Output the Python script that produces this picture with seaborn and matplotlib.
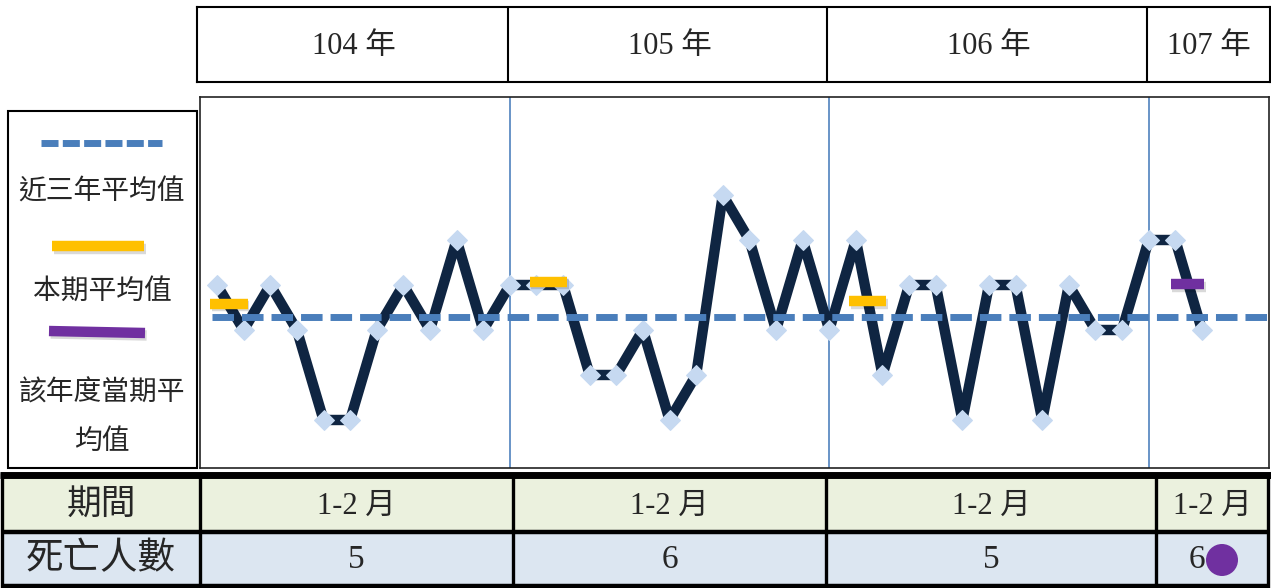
import numpy as np
import pandas as pd
import matplotlib
matplotlib.use("Agg")
import matplotlib.pyplot as plt
import matplotlib.patheffects as pe
from matplotlib.patches import Rectangle, Circle
import seaborn as sns

# ---------------- data ----------------
years = ["104", "105", "106", "107"]
year_unit = "年"
year_start_idx = [-1, 11, 23, 35]          # month index of January of each year
monthly_deaths = [3, 2, 3, 2, 0, 0, 2, 3, 2, 4, 2,
                  3, 3, 3, 1, 1, 2, 0, 1, 5, 4, 2, 4,
                  2, 4, 1, 3, 3, 0, 3, 3, 0, 3, 2, 2,
                  4, 4, 2]
three_year_avg = 2.29
period_avg = [2.58, 3.07, 2.64]            # 104-106, 1-2月 average
current_avg = 3.02                          # 107, 1-2月 average
period_label = "1-2"
period_unit = "月"
period_deaths = ["5", "6", "5", "6"]
row_labels = ["期間", "死亡人數"]
legend_labels = ["近三年平均值", "本期平均值", "該年度當期平\n均值"]

# ---------------- style ----------------
sns.set_style("white")
plt.rcParams["font.family"] = ["Liberation Serif", "Noto Sans CJK TC", "DejaVu Sans"]

NAVY = "#0f2542"
MARK = "#c6d9f1"
BLUE = "#4a7ebb"
YELLOW = "#ffc000"
PURPLE = "#7030a0"
GREEN_BG = "#ebf1de"
BLUE_BG = "#dce6f1"

W, H = 1271, 588
fig = plt.figure(figsize=(W / 100, H / 100), dpi=100)

# overlay in pixel coordinates
ov = fig.add_axes([0, 0, 1, 1], zorder=0)
ov.set_xlim(0, W)
ov.set_ylim(H, 0)
ov.axis("off")

shadow = [pe.SimpleLineShadow(offset=(1.2, -1.8), shadow_color="k", alpha=0.15), pe.Normal()]

# ---------------- main line chart ----------------
x0_px, x1_px, y0_px, y1_px = 200, 1269, 97, 468
ax = fig.add_axes([x0_px / W, (H - y1_px) / H, (x1_px - x0_px) / W, (y1_px - y0_px) / H], zorder=2)
df = pd.DataFrame({"idx": np.arange(len(monthly_deaths)), "deaths": monthly_deaths})
sns.lineplot(data=df, x="idx", y="deaths", ax=ax, color=NAVY, lw=7.5, marker="D",
             markersize=10, markerfacecolor=MARK, markeredgecolor=MARK, zorder=4,
             sort=False)
ax.set_xlim(-0.64, 39.52)
ax.set_ylim(-1.067, 7.178)
ax.set_xticks([])
ax.set_yticks([])
ax.set_xlabel("")
ax.set_ylabel("")
for s in ax.spines.values():
    s.set_color("#222222")
    s.set_linewidth(1.2)

for b in year_start_idx[1:]:
    ax.axvline(b, color="#4f81bd", lw=1.2, zorder=1)

ax.plot([-0.19, 39.6], [three_year_avg, three_year_avg], color=BLUE, lw=5,
        linestyle=(0, (3.1, 1.15)), zorder=5, dash_capstyle="butt", clip_on=False)

for start, v in zip(year_start_idx[:3], period_avg):
    c = start + 1.45
    ax.plot([c - 0.7, c + 0.7], [v, v], color=YELLOW, lw=7.5, solid_capstyle="butt",
            zorder=6, path_effects=shadow)
c = year_start_idx[3] + 1.45
ax.plot([c - 0.63, c + 0.63], [current_avg, current_avg], color=PURPLE, lw=7.5,
        solid_capstyle="butt", zorder=6, path_effects=shadow)

# ---------------- year header ----------------
hax = fig.add_axes([197 / W, (H - 82) / H, (1270 - 197) / W, 75 / H], zorder=2)
hx0 = -0.64 - 3 / 26.62
hx1 = 39.52 + 1 / 26.62
hax.set_xlim(hx0, hx1)
hax.set_ylim(0, 1)
hax.set_xticks([])
hax.set_yticks([])
for s in hax.spines.values():
    s.set_color("black")
    s.set_linewidth(1.5)
edges = [hx0] + year_start_idx[1:] + [hx1]
for b in year_start_idx[1:]:
    hax.axvline(b - 0.08, color="black", lw=1.5)
for i, y in enumerate(years):
    cx = (edges[i] + edges[i + 1]) / 2
    hax.text(cx, 0.47, f"{y} {year_unit}", ha="center", va="center", fontsize=22)

# ---------------- legend box ----------------
ov.add_patch(Rectangle((8, 111), 189, 357, fill=False, ec="black", lw=1.5))
ov.plot([41, 162], [143, 143], color=BLUE, lw=5, linestyle=(0, (2.45, 0.62)), dash_capstyle="butt")
ov.plot([52, 144], [246, 246], color=YELLOW, lw=7.5, solid_capstyle="butt", path_effects=shadow)
ov.plot([49, 145], [331, 333], color=PURPLE, lw=7.5, solid_capstyle="butt", path_effects=shadow)
ov.text(102, 192, legend_labels[0], ha="center", va="center", fontsize=20)
ov.text(102, 292, legend_labels[1], ha="center", va="center", fontsize=20)
l3 = legend_labels[2].split("\n")
ov.text(102, 393, l3[0], ha="center", va="center", fontsize=20)
ov.text(102, 442, l3[1], ha="center", va="center", fontsize=20)

# ---------------- bottom table ----------------
col_edges = [2, 200, 513, 826, 1156, 1268]
row_edges = [476, 532, 586]
ov.add_patch(Rectangle((col_edges[0], row_edges[0]), col_edges[-1] - col_edges[0],
                       row_edges[1] - row_edges[0], color=GREEN_BG, lw=0))
ov.add_patch(Rectangle((col_edges[0], row_edges[1]), col_edges[-1] - col_edges[0],
                       row_edges[2] - row_edges[1], color=BLUE_BG, lw=0))
ov.plot([0, W], [474.5, 474.5], color="black", lw=5, solid_capstyle="butt")
ov.plot([col_edges[0], col_edges[-1]], [532, 532], color="black", lw=3.2, solid_capstyle="butt")
ov.plot([col_edges[0], col_edges[-1]], [586, 586], color="black", lw=3.2, solid_capstyle="butt")
for x in col_edges:
    ov.plot([x, x], [473, 588], color="black", lw=2.4, solid_capstyle="butt")

ry = [(row_edges[0] + row_edges[1]) / 2 + 2, (row_edges[1] + row_edges[2]) / 2 + 1]
ov.text((col_edges[0] + col_edges[1]) / 2, ry[0], row_labels[0], ha="center", va="center", fontsize=25)
ov.text((col_edges[0] + col_edges[1]) / 2, ry[1], row_labels[1], ha="center", va="center", fontsize=27)
for i in range(4):
    cx = (col_edges[i + 1] + col_edges[i + 2]) / 2
    ov.text(cx, ry[0], f"{period_label} {period_unit}", ha="center", va="center", fontsize=22)
    if i < 3:
        ov.text(cx, ry[1], period_deaths[i], ha="center", va="center", fontsize=24)
    else:
        ov.text(cx - 7, ry[1], period_deaths[i], ha="right", va="center", fontsize=24)
        ov.add_patch(Circle((cx + 10, ry[1]), 16, color=PURPLE, lw=0))

fig.savefig("out.png", dpi=100)
